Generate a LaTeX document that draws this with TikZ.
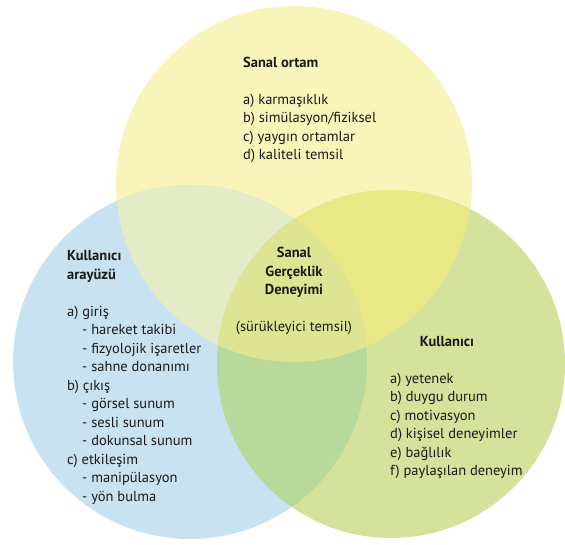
\documentclass[tikz,border=0pt]{standalone}
\usepackage{fontspec}
\setmainfont{PT Sans}
\definecolor{yonly}{HTML}{F9F4B9}
\definecolor{bonly}{HTML}{C8E2F2}
\definecolor{gonly}{HTML}{D4E29C}
\definecolor{ybcut}{HTML}{E3ECC6}
\definecolor{bgcut}{HTML}{B8D99C}
\definecolor{ygcut}{HTML}{E8E886}
\definecolor{allcut}{HTML}{DDE592}
\definecolor{ink}{HTML}{1A1A1A}

\begin{document}
\begin{tikzpicture}[x=1pt,y=-1pt,
    every node/.style={inner sep=0pt,text=ink,
      font=\fontsize{14.5}{18.5}\selectfont},
    block/.style={anchor=base west,align=left},
    title/.style={font=\fontsize{14.5}{18.5}\selectfont\bfseries}]
  \useasboundingbox (0,0) rectangle (565,545);
  \coordinate (yel) at (294,184);
  \coordinate (blu) at (190,362);
  \coordinate (gre) at (391,364);
  % the three sets
  \fill[yonly](yel)circle(178);
  \fill[bonly](blu)circle(177);
  \fill[gonly](gre)circle(174);
  % pairwise overlaps, then the middle
  \begin{scope}
    \clip(yel)circle(178);
    \fill[ybcut](blu)circle(177);
    \fill[ygcut](gre)circle(174);
  \end{scope}
  \begin{scope}
    \clip(blu)circle(177);
    \fill[bgcut](gre)circle(174);
    \clip(gre)circle(174);
    \fill[allcut](yel)circle(178);
  \end{scope}
  % texts (base anchor sits on the last line)
  \node[block](ortam) at (243,160) {{\bfseries Sanal ortam}\\[18.5pt]
    a) karmaşıklık\\ b) simülasyon/fiziksel\\ c) yaygın ortamlar\\
    d) kaliteli temsil};
  \node[block](arayuz) at (67,501) {{\bfseries Kullanıcı}\\
    {\bfseries arayüzü}\\[18.5pt]
    a) giriş\\ \hspace*{15pt}- hareket takibi\\
    \hspace*{15pt}- fizyolojik işaretler\\ \hspace*{15pt}- sahne donanımı\\
    b) çıkış\\ \hspace*{15pt}- görsel sunum\\ \hspace*{15pt}- sesli sunum\\
    \hspace*{15pt}- dokunsal sunum\\
    c) etkileşim\\ \hspace*{15pt}- manipülasyon\\ \hspace*{15pt}- yön bulma};
  \node[anchor=base,align=center](deneyim) at (294,332)
    {{\bfseries Sanal}\\ {\bfseries Gerçeklik}\\ {\bfseries Deneyimi}\\[18.5pt]
    (sürükleyici temsil)};
  \node[title,anchor=base](kullanici) at (447,346.5) {Kullanıcı};
  \node[block](ozellik) at (390,475.5) {a) yetenek\\ b) duygu durum\\
    c) motivasyon\\ d) kişisel deneyimler\\ e) bağlılık\\
    f) paylaşılan deneyim};
\end{tikzpicture}
\end{document}
